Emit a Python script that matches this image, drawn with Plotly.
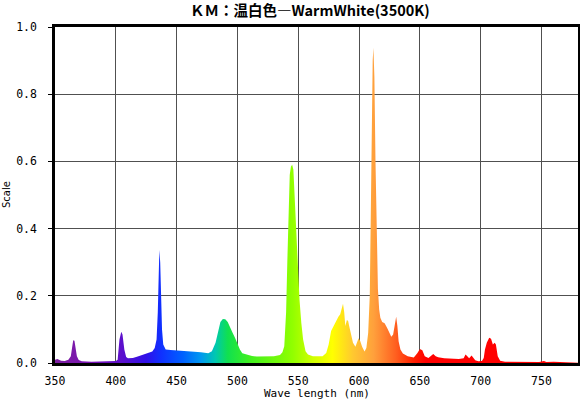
import plotly.graph_objects as go

wavelength = [350, 352, 355, 358, 361, 363, 364, 365, 366, 367, 368, 369.5, 372, 380, 390, 397,
              400, 401.5, 403, 404.5, 405.5, 407, 408.5, 410, 414, 418, 422, 426, 430, 432, 433.5,
              434.5, 435.3, 435.8, 436.5, 437, 438, 439, 441, 445, 450, 455, 460, 465, 470, 476,
              479, 482, 484, 486, 488, 490, 492, 494, 496, 498, 500, 502, 504, 508, 512, 516, 520,
              525, 530, 535, 537, 538.5, 540, 541, 542, 543, 544, 545, 546, 547, 548, 549, 550, 551,
              552.5, 554, 556, 558, 562, 566, 570, 573, 575, 577, 579, 581, 583, 584.5, 586, 586.8,
              587.8, 588.7, 590, 591, 592, 593.5, 595, 597, 598.5, 599.6, 601, 602.5, 604.5, 606,
              607.5, 608.8, 609.5, 610.3, 611.2, 611.8, 612.6, 613.5, 614.5, 615.5, 616.5, 617.5,
              619, 621, 623, 625, 626.5, 628, 629.5, 630.5, 631.5, 632.5, 634, 636, 640, 645, 648,
              650, 652, 654, 657, 659, 661, 663, 665, 670, 676, 682, 686, 687.5, 689, 690.5, 692.5,
              694, 695.5, 698, 701, 702.5, 703.5, 705, 707, 708.5, 710, 711.5, 712.5, 714, 716, 720,
              730, 740, 748, 752, 754, 760, 765, 770, 780]
intensity = [0.010, 0.012, 0.007, 0.006, 0.010, 0.020, 0.045, 0.068, 0.066, 0.042, 0.020, 0.009,
             0.005, 0.004, 0.004, 0.004, 0.006, 0.010, 0.070, 0.093, 0.085, 0.040, 0.018, 0.014,
             0.015, 0.019, 0.024, 0.029, 0.034, 0.045, 0.070, 0.150, 0.270, 0.336, 0.300, 0.217,
             0.100, 0.055, 0.040, 0.039, 0.038, 0.037, 0.036, 0.034, 0.032, 0.029, 0.035, 0.060,
             0.095, 0.122, 0.131, 0.130, 0.122, 0.108, 0.090, 0.075, 0.055, 0.040, 0.029, 0.024,
             0.021, 0.019, 0.019, 0.019, 0.020, 0.024, 0.032, 0.050, 0.150, 0.300, 0.480, 0.560,
             0.585, 0.590, 0.575, 0.500, 0.420, 0.330, 0.250, 0.190, 0.120, 0.070, 0.035, 0.025,
             0.020, 0.020, 0.020, 0.030, 0.055, 0.095, 0.110, 0.125, 0.138, 0.145, 0.165, 0.176,
             0.150, 0.110, 0.128, 0.125, 0.108, 0.080, 0.060, 0.048, 0.060, 0.074, 0.065, 0.048,
             0.034, 0.045, 0.090, 0.200, 0.400, 0.700, 0.900, 0.938, 0.850, 0.600, 0.380, 0.220,
             0.160, 0.135, 0.122, 0.118, 0.105, 0.090, 0.078, 0.085, 0.125, 0.138, 0.110, 0.065,
             0.040, 0.028, 0.020, 0.016, 0.030, 0.042, 0.038, 0.020, 0.015, 0.020, 0.027, 0.020,
             0.017, 0.014, 0.012, 0.012, 0.014, 0.025, 0.020, 0.014, 0.022, 0.015, 0.008, 0.005,
             0.006, 0.015, 0.040, 0.060, 0.075, 0.072, 0.055, 0.060, 0.055, 0.020, 0.007, 0.004,
             0.003, 0.003, 0.003, 0.006, 0.003, 0.004, 0.002, 0.002, 0.001]

x_ticks = [350, 400, 450, 500, 550, 600, 650, 700, 750]
y_ticks = [0.0, 0.2, 0.4, 0.6, 0.8, 1.0]
y_tick_labels = ["0.0", "0.2", "0.4", "0.6", "0.8", "1.0"]

title_text = "ＫＭ：温白色―WarmWhite(3500K)"
x_title = "Wave length (nm)"
y_title = "Scale"

# spectral colour stops (wavelength, colour) for the gradient fill
spec_stops = [(350, "#7d20a0"), (380, "#7a14b4"), (405, "#5c10cc"), (425, "#3010e8"),
              (437, "#1030ff"), (455, "#0060ff"), (470, "#0098f0"), (482, "#00c8b0"),
              (492, "#10e050"), (510, "#40f020"), (545, "#90ff00"), (562, "#d0ff00"),
              (578, "#ffff00"), (595, "#ffc830"), (612, "#ffa03c"), (630, "#ff6020"),
              (645, "#ff2000"), (655, "#ff0000"), (780, "#ff0000")]
X0, X1 = 350, 780
colorscale = [[(w - X0) / (X1 - X0), c] for w, c in spec_stops]

fig = go.Figure()
fig.add_trace(go.Scatter(
    x=wavelength, y=intensity, mode="lines", fill="tozeroy",
    line=dict(width=0, color="rgba(0,0,0,0)"),
    fillgradient=dict(type="horizontal", colorscale=colorscale, start=X0, stop=X1),
    hoverinfo="x+y", showlegend=False,
))

axis_font = dict(family="DejaVu Sans Mono", size=11.5, color="#000")
fig.update_layout(
    width=580, height=399,
    margin=dict(l=55, r=2, t=27, b=36, autoexpand=False),
    paper_bgcolor="white", plot_bgcolor="white",
    xaxis=dict(range=[X0, X1], tickvals=x_ticks, showgrid=True, gridcolor="#505050",
               gridwidth=1, showline=True, linecolor="black", linewidth=2.5, mirror=True,
               ticks="", tickfont=axis_font, zeroline=False, ticklabelstandoff=5,
               automargin=False),
    yaxis=dict(range=[0, 1.0], tickvals=y_ticks, ticktext=y_tick_labels, showgrid=True,
               gridcolor="#505050", gridwidth=1, showline=True, linecolor="black",
               linewidth=2.5, mirror=True, ticks="outside", ticklen=4, tickcolor="black",
               tickfont=axis_font, zeroline=False, ticklabelstandoff=9, automargin=False),
    annotations=[
        dict(text=title_text, xref="paper", yref="paper", x=0.4876, y=1, yanchor="middle",
             yshift=17.5, showarrow=False,
             font=dict(family="Noto Sans CJK JP", size=14.5, color="#000", weight="bold")),
        dict(text=x_title, xref="paper", yref="paper", x=0.5, y=0, yanchor="middle",
             yshift=-30, showarrow=False,
             font=dict(family="DejaVu Sans Mono", size=11, color="#000")),
        dict(text=y_title, xref="paper", yref="paper", x=0, y=0.5, xanchor="center",
             xshift=-49, textangle=-90, showarrow=False,
             font=dict(family="DejaVu Sans", size=10, color="#000")),
    ],
)
fig.write_html("out.html", config={"displayModeBar": False},
               post_script="document.body.style.margin='0';document.body.style.overflow='hidden';")
